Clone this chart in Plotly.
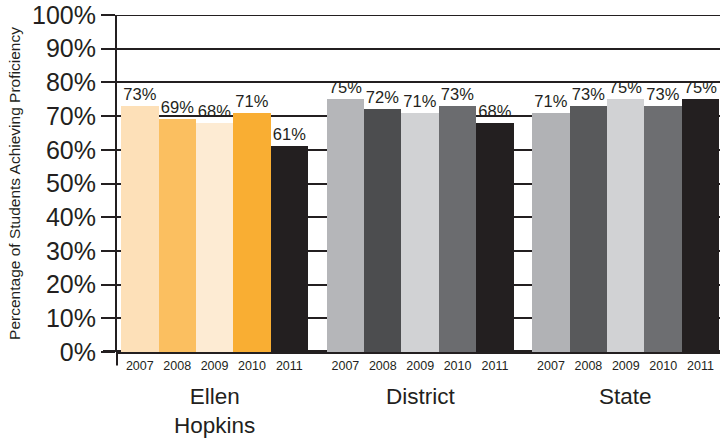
import plotly.graph_objects as go

groups = ["Ellen<br>Hopkins", "District", "State"]
years = ["2007", "2008", "2009", "2010", "2011"]
ellen = [73, 69, 68, 71, 61]
district = [75, 72, 71, 73, 68]
state = [71, 73, 75, 73, 75]
series = [ellen, district, state]
colors = [
    ["#fde0b8", "#fbbf60", "#fdebd3", "#f9ae33", "#231f20"],
    ["#b5b6b9", "#4c4d4f", "#d1d2d4", "#6b6c6f", "#231f20"],
    ["#b1b2b5", "#58595b", "#d1d2d4", "#6d6e71", "#231f20"],
]

INK = "#231f20"
FONT = "Liberation Sans, Arial"
fig = go.Figure()
tickvals, ticktext = [], []
for g, (name, vals, cols) in enumerate(zip(groups, series, colors)):
    xs = [g * 5.5 + i for i in range(len(years))]
    tickvals += xs
    ticktext += years
    fig.add_trace(go.Bar(
        x=xs, y=vals, width=1.0, marker=dict(color=cols, line=dict(width=0)),
        text=[f"{v}%" for v in vals], textposition="outside",
        textfont=dict(size=16.5, color=INK, family=FONT),
        cliponaxis=False, showlegend=False, hoverinfo="skip",
    ))
    fig.add_annotation(x=g * 5.5 + 2, y=-0.09, xref="x", yref="paper",
                       text=name, showarrow=False, yanchor="top",
                       font=dict(size=22.5, color=INK, family=FONT))

fig.update_layout(
    width=720, height=444,
    margin=dict(l=117, r=0, t=15, b=92),
    paper_bgcolor="white", plot_bgcolor="white",
    font=dict(family=FONT, color=INK),
    bargap=0,
    xaxis=dict(range=[-0.61, 15.52], tickvals=tickvals, ticktext=ticktext,
               tickfont=dict(size=12.5, color=INK), ticks="outside", ticklen=2,
               tickcolor="rgba(0,0,0,0)", showgrid=False,
               zeroline=False, showline=False, fixedrange=True, automargin=False),
    yaxis=dict(range=[0, 100], dtick=10, ticksuffix="%",
               tickfont=dict(size=25, color=INK),
               showgrid=True, gridcolor=INK, gridwidth=2,
               ticks="outside", ticklen=14, tickwidth=2, tickcolor=INK,
               showline=True, linecolor=INK, linewidth=2,
               zeroline=True, zerolinecolor=INK, zerolinewidth=4,
               title=dict(text="Percentage of Students Achieving Proficiency",
                          font=dict(size=15.5, color=INK), standoff=8),
               fixedrange=True, automargin=False),
)
fig.add_shape(type="line", xref="paper", yref="paper", x0=0, x1=0, y0=-0.04, y1=0,
              line=dict(color=INK, width=2))
fig.add_shape(type="line", xref="paper", yref="y", x0=-14 / 603, x1=0, y0=0, y1=0,
              line=dict(color=INK, width=4))
fig.add_shape(type="line", xref="paper", yref="y", x0=0, x1=1, y0=100, y1=100,
              line=dict(color=INK, width=2), layer="below")
fig.write_html("out.html", post_script="document.body.style.margin='0px';",
               config={"displayModeBar": False})
